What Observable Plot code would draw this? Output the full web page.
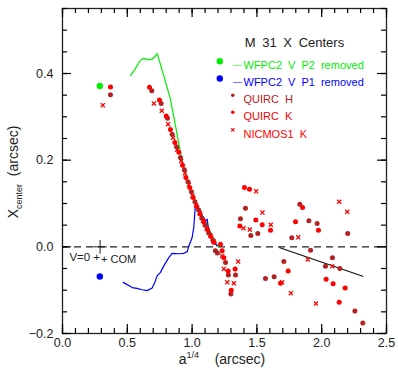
<!DOCTYPE html>
<html>
<head>
<meta charset="utf-8">
<script src="https://cdn.jsdelivr.net/npm/d3@7"></script>
<script src="https://cdn.jsdelivr.net/npm/@observablehq/plot@0.6"></script>
<style>
  html, body { margin: 0; padding: 0; background: white; }
  svg text { font-family: "Liberation Sans", Arial, sans-serif; }
</style>
</head>
<body>
<div id="chart"></div>
<script>
// ---------- data ----------
const quircH_x = [0.37,0.689,0.761,0.810,0.846,0.880,0.910,0.940,0.968,0.995,1.022,1.050,1.075,1.100,1.128,1.160,1.180,1.195,1.258,1.280,1.299,1.335,1.373,1.412,1.453,1.507,1.566,1.633,1.708,1.769,1.831,1.901,1.914,1.965,2.029,2.083,2.140,2.201,2.256,2.317];
const quircH_y = [0.351,0.360,0.331,0.297,0.260,0.231,0.206,0.178,0.150,0.127,0.104,0.085,0.066,0.050,0.032,0.015,-0.009,-0.014,-0.036,-0.065,-0.109,-0.065,0.065,0.089,0.026,0.031,-0.073,-0.069,-0.034,0.021,0.098,0.060,-0.008,0.054,-0.045,-0.025,-0.050,0.031,-0.148,-0.176];

const quircK_x = [0.37,0.671,0.748,0.800,0.833,0.867,0.898,0.926,0.952,0.982,1.008,1.036,1.062,1.090,1.118,1.145,1.170,1.219,1.232,1.245,1.278,1.302,1.332,1.368,1.404,1.443,1.492,1.541,1.605,1.682,1.741,1.798,1.852,1.975,2.034,2.088,2.135,2.181];
const quircK_y = [0.369,0.368,0.339,0.302,0.271,0.241,0.218,0.188,0.160,0.137,0.114,0.093,0.076,0.058,0.040,0.024,0.010,0.006,-0.009,-0.025,-0.056,-0.100,-0.051,0.048,0.137,0.133,0.062,0.051,0.038,-0.084,-0.056,0.058,0.091,0.038,-0.075,-0.085,-0.128,-0.095];

const nicmos_x = [0.311,0.705,0.766,0.815,0.854,0.885,0.916,0.945,0.975,1.003,1.030,1.058,1.085,1.112,1.140,1.165,1.232,1.245,1.271,1.322,1.355,1.397,1.445,1.494,1.543,1.607,1.695,1.762,1.819,1.893,1.955,2.081,2.135,2.197];
const nicmos_y = [0.327,0.331,0.314,0.283,0.252,0.224,0.198,0.170,0.143,0.118,0.096,0.078,0.060,0.043,0.027,0.013,-0.021,-0.051,-0.082,-0.084,-0.034,0.043,0.040,0.128,0.079,0.051,-0.082,-0.107,0.022,-0.029,-0.131,-0.045,0.104,0.081];

const greenLine_x = [0.525,0.560,0.600,0.627,0.660,0.690,0.710,0.730,0.745,0.782,0.833,0.872,0.910,0.931,0.962,1.013,1.052,1.085,1.116,1.155,1.190,1.210];
const greenLine_y = [0.395,0.410,0.430,0.435,0.432,0.433,0.438,0.446,0.432,0.394,0.341,0.279,0.218,0.187,0.150,0.114,0.087,0.068,0.052,0.025,0.005,-0.002];

const blueLine_x = [0.468,0.538,0.575,0.615,0.653,0.692,0.715,0.730,0.756,0.782,0.820,0.846,0.900,0.936,0.962,0.975,1.000,1.013,1.022,1.028,1.040,1.065,1.078,1.103,1.116,1.129,1.155,1.175,1.194];
const blueLine_y = [-0.082,-0.094,-0.096,-0.099,-0.101,-0.095,-0.080,-0.067,-0.059,-0.044,-0.025,-0.015,-0.016,-0.015,-0.011,0.002,0.021,0.045,0.083,0.102,0.087,0.070,0.072,0.060,0.064,0.037,0.021,0.008,0.002];

const greenDot = {x: 0.288, y: 0.371};
const blueDot = {x: 0.288, y: -0.0685};

const fit_x = [1.677, 2.317];
const fit_y = [-0.002, -0.068];

const v0 = {x: 0.29, y: 0.0};

const xMajorTicks = [0, 0.5, 1.0, 1.5, 2.0, 2.5];
const xMinorTicks = [0,0.1,0.2,0.3,0.4,0.5,0.6,0.7,0.8,0.9,1.0,1.1,1.2,1.3,1.4,1.5,1.6,1.7,1.8,1.9,2.0,2.1,2.2,2.3,2.4,2.5];
const yMajorTicks = [-0.2, 0.0, 0.2, 0.4];
const yMinorTicks = [-0.2,-0.15,-0.1,-0.05,0,0.05,0.1,0.15,0.2,0.25,0.3,0.35,0.4,0.45,0.5,0.55];

const titleText = "M 31 X Centers";
const legendLabels = ["WFPC2 V P2 removed", "WFPC2 V P1 removed", "QUIRC H", "QUIRC K", "NICMOS1 K"];
const colors = {green: "#00ee00", blue: "#0000ff", darkred: "#b22222", red: "#ff0000"};
const legendColors = [colors.green, colors.blue, colors.darkred, colors.red, colors.red];

// ---------- build ----------
const W = 398, Ht = 371, mL = 62, mR = 12, mT = 8, mB = 38;
const plotW = W - mL - mR, plotH = Ht - mT - mB;

const toPts = (xs, ys) => xs.map((x, i) => ({x, y: ys[i]}));
const ptsH = toPts(quircH_x, quircH_y);
const ptsK = toPts(quircK_x, quircK_y);
const ptsN = toPts(nicmos_x, nicmos_y);
const ptsG = toPts(greenLine_x, greenLine_y);
const ptsB = toPts(blueLine_x, blueLine_y);
const ptsF = toPts(fit_x, fit_y);

const legendRowDy = [52.7, 70, 86.7, 103.7, 121.3];
const legendMarks = [];
legendLabels.forEach((lab, i) => {
  const dy = legendRowDy[i];
  legendMarks.push(Plot.text([lab], {frameAnchor: "top-left", dx: 181, dy, text: d => d, fill: legendColors[i], textAnchor: "start", fontSize: 11}));
  if (i < 2) {
    legendMarks.push(Plot.dot([0], {frameAnchor: "top-left", dx: 157.3, dy, r: 3.2, fill: legendColors[i], stroke: "none"}));
    legendMarks.push(Plot.text(["—"], {frameAnchor: "top-left", dx: 170.5, dy, text: d => d, fill: legendColors[i], fontSize: 9}));
  } else if (i < 4) {
    legendMarks.push(Plot.dot([0], {frameAnchor: "top-left", dx: 170.3, dy, r: 1.8, fill: legendColors[i], stroke: "none"}));
  } else {
    legendMarks.push(Plot.dot([0], {frameAnchor: "top-left", dx: 170.3, dy, r: 1.6, symbol: "times", stroke: legendColors[i], strokeWidth: 1.2}));
  }
});

// inward ticks on all four sides (short tick marks via insets)
const inTicksX = (ticks, size) => [
  Plot.tickX(ticks, {x: d => d, insetTop: plotH - size, stroke: "#000", strokeWidth: 1.2}),
  Plot.tickX(ticks, {x: d => d, insetBottom: plotH - size, stroke: "#000", strokeWidth: 1.2})
];
const inTicksY = (ticks, size) => [
  Plot.tickY(ticks, {y: d => d, insetRight: plotW - size, stroke: "#000", strokeWidth: 1.2}),
  Plot.tickY(ticks, {y: d => d, insetLeft: plotW - size, stroke: "#000", strokeWidth: 1.2})
];

const chart = Plot.plot({
  width: W,
  height: Ht,
  marginLeft: mL,
  marginRight: mR,
  marginTop: mT,
  marginBottom: mB,
  style: {fontSize: "12px", background: "white", color: "#222"},
  x: {domain: [0, 2.5], label: null},
  y: {domain: [-0.2, 0.55], label: null},
  marks: [
    Plot.axisX(xMajorTicks, {anchor: "bottom", tickSize: 0, tickPadding: 5, tickFormat: d3.format(".1f"), label: null, fontSize: 12.5}),
    Plot.axisY(yMajorTicks, {anchor: "left", tickSize: 0, tickPadding: 9, tickFormat: d3.format(".1f"), label: null, fontSize: 12.5}),
    Plot.ruleY([0], {stroke: "#222", strokeDasharray: "7,5", strokeWidth: 1.1}),
    Plot.dot([v0], {x: "x", y: "y", symbol: "plus", r: 4.5, stroke: "#222", strokeWidth: 1}),
    Plot.text([v0], {x: "x", y: "y", text: () => "V=0 +", textAnchor: "end", dx: 0, dy: 10, fontSize: 11.5, fill: "#222"}),
    Plot.text([v0], {x: "x", y: "y", text: () => "+ COM", textAnchor: "start", dx: 1, dy: 13, fontSize: 11, fill: "#222"}),
    Plot.line(ptsG, {x: "x", y: "y", stroke: colors.green, strokeWidth: 1.2}),
    Plot.line(ptsB, {x: "x", y: "y", stroke: colors.blue, strokeWidth: 1.2}),
    Plot.line(ptsF, {x: "x", y: "y", stroke: "#111", strokeWidth: 1.2}),
    Plot.dot(ptsN, {x: "x", y: "y", symbol: "times", r: 2, stroke: colors.red, strokeWidth: 1.3}),
    Plot.dot(ptsH, {x: "x", y: "y", r: 2.5, fill: colors.darkred, stroke: "none"}),
    Plot.dot(ptsK, {x: "x", y: "y", r: 2.5, fill: colors.red, stroke: "none"}),
    Plot.dot([greenDot], {x: "x", y: "y", r: 3.2, fill: colors.green, stroke: "none"}),
    Plot.dot([blueDot], {x: "x", y: "y", r: 3.2, fill: colors.blue, stroke: "none"}),
    Plot.text([titleText], {frameAnchor: "top-left", dx: 232, dy: 29, text: d => d, textAnchor: "middle", fontSize: 13, fill: "#222"}),
    ...legendMarks,
    Plot.frame({stroke: "#222", strokeWidth: 1.3}),
    ...inTicksX(xMinorTicks, 5),
    ...inTicksX(xMajorTicks, 9),
    ...inTicksY(yMinorTicks, 5),
    ...inTicksY(yMajorTicks, 9)
  ]
});

const svg = d3.select(chart);
const spaced = new Set([titleText, ...legendLabels]);
svg.selectAll("text").filter(function() { return spaced.has(this.textContent); })
  .style("word-spacing", "3px");

// axis titles with sub/superscripts
const ylab = svg.append("text")
  .attr("transform", "translate(18,172) rotate(-90)")
  .attr("text-anchor", "middle")
  .attr("fill", "#222")
  .style("font-size", "14px")
  .style("white-space", "pre");
ylab.append("tspan").text("X");
ylab.append("tspan").attr("font-size", "9px").attr("dy", 4).text("center");
ylab.append("tspan").attr("dy", -4).text("  (arcsec)");

const xlab = svg.append("text")
  .attr("transform", "translate(222,364)")
  .attr("text-anchor", "middle")
  .attr("fill", "#222")
  .style("font-size", "14px")
  .style("white-space", "pre");
xlab.append("tspan").text("a");
xlab.append("tspan").attr("font-size", "9px").attr("dy", -6).text("1/4");
xlab.append("tspan").attr("dy", 6).text("    (arcsec)");

document.getElementById("chart").appendChild(chart);
</script>
</body>
</html>
